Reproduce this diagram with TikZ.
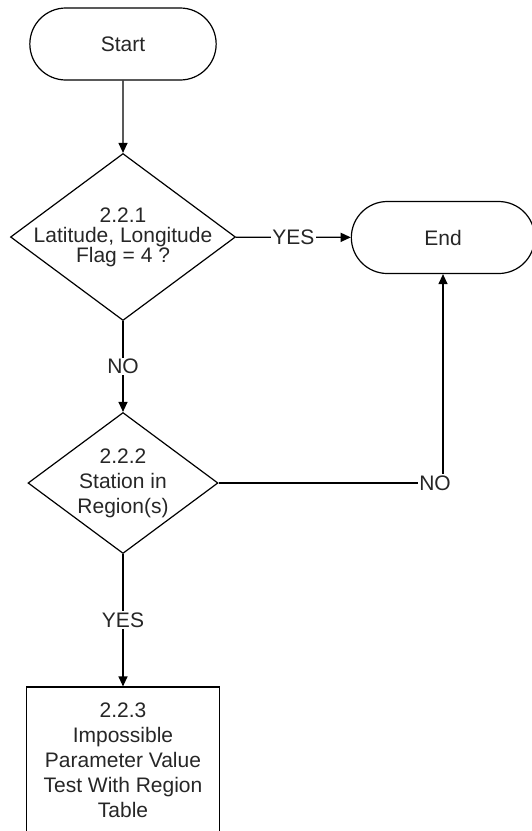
\documentclass[tikz,border=0pt]{standalone}
\usepackage{fontspec}
\setmainfont{Liberation Sans}
\usetikzlibrary{shapes.geometric, shapes.misc, arrows.meta, positioning}

\begin{document}
\begin{tikzpicture}[x=1pt, y=-1pt,
    every node/.style={font=\fontsize{21}{25}\selectfont, text=black!85},
    terminal/.style={draw, rounded rectangle, line width=1.2pt,
                     minimum width=193pt, minimum height=72pt},
    decision/.style={draw, diamond, line width=1.2pt, inner sep=0pt},
    process/.style={draw, rectangle, line width=1.2pt, align=center,
                    minimum width=193pt, minimum height=146pt},
    lbl/.style={fill=white, inner sep=1.5pt},
    arr/.style={-{Triangle[length=10pt, width=9pt]}, line width=1.2pt}
]
    \useasboundingbox (0,0) rectangle (531,831);

    \node[terminal] (st) at (123, 44) {Start};
    \node[terminal, minimum width=190pt] (fin) at (443, 237.5) {End};

    % Two decisions
    \node[decision, minimum width=225pt, minimum height=167pt,
          label={[align=center, font=\fontsize{21}{20}\selectfont]center:{2.2.1\\Latitude, Longitude\\Flag = 4 ?}}]
          (q1) at (123, 237) {};
    \node[decision, minimum width=190pt, minimum height=141pt,
          label={[align=center]center:{2.2.2\\Station in\\Region(s)}}]
          (q2) at (123, 483) {};

    \node[process] (tst) at (123, 760)
        {2.2.3\\Impossible\\Parameter Value\\Test With Region\\Table};

    \draw[arr] (st) -- (q1);
    \draw[arr] (q1) -- node[lbl] {YES} (fin);
    \draw[arr] (q1) -- node[lbl] {NO} (q2);
    \draw[arr] (q2) -- node[lbl] {YES} (tst);
    \draw[arr] (q2) -| node[lbl, pos=0.5, xshift=-8pt] {NO} (fin);
\end{tikzpicture}
\end{document}
